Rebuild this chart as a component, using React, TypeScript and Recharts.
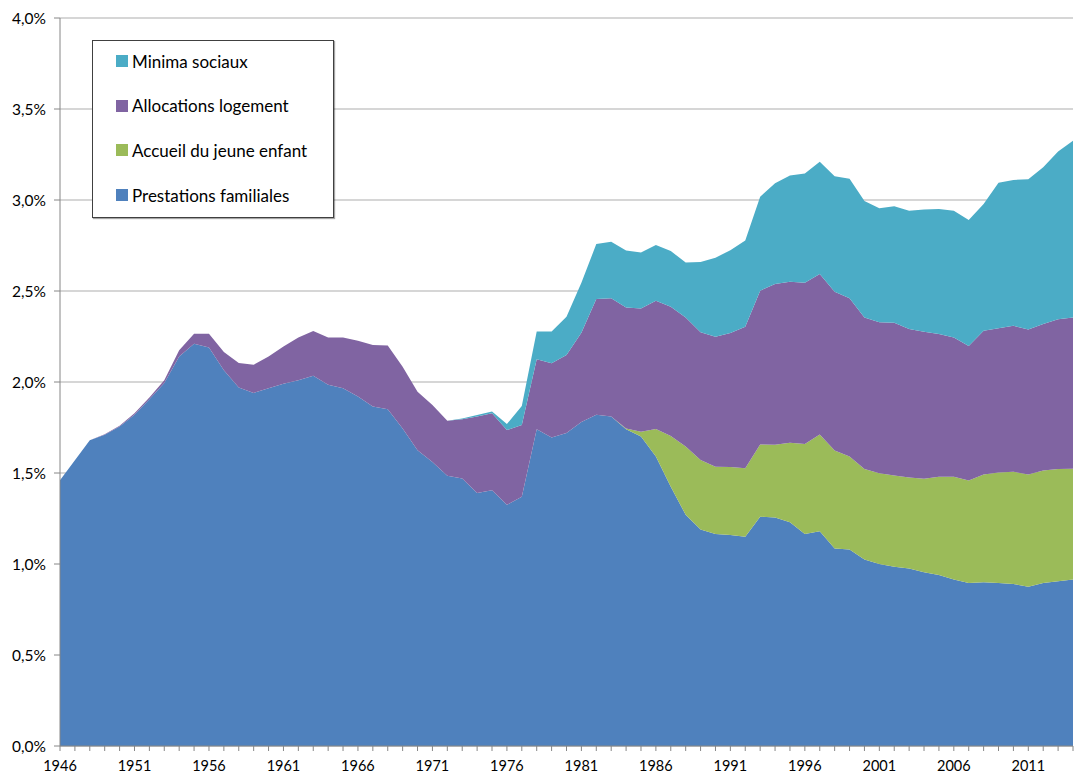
import React from "react";
import { AreaChart, Area, XAxis, YAxis, CartesianGrid, Legend } from "recharts";

const years = [
  "1946","1947","1948","1949","1950","1951","1952","1953","1954","1955",
  "1956","1957","1958","1959","1960","1961","1962","1963","1964","1965",
  "1966","1967","1968","1969","1970","1971","1972","1973","1974","1975",
  "1976","1977","1978","1979","1980","1981","1982","1983","1984","1985",
  "1986","1987","1988","1989","1990","1991","1992","1993","1994","1995",
  "1996","1997","1998","1999","2000","2001","2002","2003","2004","2005",
  "2006","2007","2008","2009","2010","2011","2012","2013","2014",
];

const prestationsFamiliales = [
  1.46, 1.57, 1.68, 1.71, 1.755, 1.82, 1.905, 1.995, 2.14, 2.21,
  2.19, 2.065, 1.97, 1.94, 1.965, 1.99, 2.01, 2.035, 1.985, 1.965,
  1.92, 1.865, 1.85, 1.745, 1.625, 1.56, 1.485, 1.47, 1.39, 1.405,
  1.325, 1.37, 1.74, 1.695, 1.72, 1.78, 1.82, 1.81, 1.74, 1.70,
  1.59, 1.425, 1.27, 1.19, 1.165, 1.16, 1.15, 1.26, 1.255, 1.23,
  1.165, 1.18, 1.085, 1.08, 1.025, 1.0, 0.985, 0.975, 0.955, 0.94,
  0.915, 0.895, 0.9, 0.895, 0.89, 0.875, 0.895, 0.905, 0.915,
];

const accueilJeuneEnfant = [
  0, 0, 0, 0, 0, 0, 0, 0, 0, 0,
  0, 0, 0, 0, 0, 0, 0, 0, 0, 0,
  0, 0, 0, 0, 0, 0, 0, 0, 0, 0,
  0, 0, 0, 0, 0, 0, 0, 0, 0.005, 0.027,
  0.152, 0.278, 0.376, 0.381, 0.37, 0.373, 0.376, 0.397, 0.4, 0.436,
  0.494, 0.532, 0.539, 0.51, 0.497, 0.499, 0.501, 0.5, 0.513, 0.54,
  0.564, 0.564, 0.592, 0.608, 0.617, 0.617, 0.619, 0.617, 0.608,
];

const allocationsLogement = [
  0, 0, 0, 0.003, 0.005, 0.008, 0.01, 0.015, 0.035, 0.055,
  0.075, 0.1, 0.135, 0.155, 0.175, 0.205, 0.235, 0.245, 0.26, 0.28,
  0.307, 0.338, 0.35, 0.339, 0.322, 0.314, 0.302, 0.325, 0.42, 0.423,
  0.411, 0.394, 0.385, 0.408, 0.428, 0.49, 0.636, 0.65, 0.665, 0.677,
  0.705, 0.711, 0.709, 0.703, 0.714, 0.736, 0.778, 0.845, 0.883, 0.885,
  0.887, 0.881, 0.872, 0.87, 0.832, 0.829, 0.84, 0.816, 0.808, 0.784,
  0.766, 0.739, 0.79, 0.792, 0.802, 0.797, 0.805, 0.823, 0.832,
];

const minimaSociaux = [
  0, 0, 0, 0, 0, 0, 0, 0, 0, 0,
  0, 0, 0, 0, 0, 0, 0, 0, 0, 0,
  0, 0, 0, 0, 0, 0, 0, 0.005, 0.008, 0.01,
  0.033, 0.104, 0.152, 0.174, 0.211, 0.275, 0.302, 0.311, 0.312, 0.308,
  0.306, 0.306, 0.301, 0.385, 0.434, 0.455, 0.473, 0.516, 0.554, 0.583,
  0.6, 0.617, 0.634, 0.657, 0.64, 0.626, 0.639, 0.65, 0.672, 0.686,
  0.696, 0.692, 0.696, 0.8, 0.801, 0.825, 0.861, 0.921, 0.971,
];

const yTicks = [0, 0.5, 1, 1.5, 2, 2.5, 3, 3.5, 4];
const labelYears = ["1946","1951","1956","1961","1966","1971","1976","1981","1986","1991","1996","2001","2006","2011"];

const series = [
  { key: "prestations", name: "Prestations familiales", color: "#4F81BD" },
  { key: "accueil", name: "Accueil du jeune enfant", color: "#9BBB59" },
  { key: "allocations", name: "Allocations logement", color: "#8064A2" },
  { key: "minima", name: "Minima sociaux", color: "#4BACC6" },
];

const data = years.map((y, i) => ({
  year: y,
  prestations: prestationsFamiliales[i],
  accueil: accueilJeuneEnfant[i],
  allocations: allocationsLogement[i],
  minima: minimaSociaux[i],
}));

const FONT = "Lato, 'Open Sans', sans-serif";

const XTick = (props: any) => {
  const { x, y, payload } = props;
  if (!labelYears.includes(payload.value)) return <g />;
  return (
    <text x={x} y={y} dy="0.71em" textAnchor="middle" fill="#000" fontSize={14.5} fontFamily={FONT}>
      {payload.value}
    </text>
  );
};

const LegendBox = () => {
  const items = [...series].reverse();
  return (
    <div
      style={{
        width: 242,
        height: 178,
        boxSizing: "border-box",
        border: "1px solid #404040",
        boxShadow: "1px 1px 1px rgba(0,0,0,0.35)",
        background: "#fff",
        position: "relative",
        fontFamily: FONT,
        fontSize: 17,
        color: "#000",
      }}
    >
      {items.map((s, i) => (
        <div
          key={s.key}
          style={{
            position: "absolute",
            left: 23,
            top: 20 + i * 44.7 - 10,
            height: 20,
            display: "flex",
            alignItems: "center",
            whiteSpace: "nowrap",
          }}
        >
          <span style={{ display: "inline-block", width: 12, height: 12, background: s.color, marginRight: 4 }} />
          <span>{s.name}</span>
        </div>
      ))}
    </div>
  );
};

export default function App() {
  return (
    <div style={{ position: "absolute", left: 0, top: 0, width: 1074, height: 775, background: "#fff" }}>
      <AreaChart width={1074} height={775} data={data} margin={{ top: 18, right: 1, bottom: 0, left: 0 }}>
        <CartesianGrid vertical={false} stroke="#ADADAD" strokeWidth={1} />
        <XAxis
          dataKey="year"
          interval={0}
          height={29}
          tickSize={5}
          tickMargin={10}
          tick={<XTick />}
          axisLine={{ stroke: "#868686" }}
          tickLine={{ stroke: "#868686" }}
        />
        <YAxis
          width={60}
          domain={[0, 4]}
          ticks={yTicks}
          tickSize={6}
          tickMargin={8}
          tickFormatter={(v: number) => v.toFixed(1).replace(".", ",") + "%"}
          tick={{ fill: "#000", fontSize: 15.5, fontFamily: FONT }}
          axisLine={{ stroke: "#868686" }}
          tickLine={{ stroke: "#868686" }}
        />
        <Legend
          layout="vertical"
          align="center"
          verticalAlign="middle"
          wrapperStyle={{ left: 92, top: 40, width: 242, height: 178 }}
          content={<LegendBox />}
        />
        {series.map((s) => (
          <Area
            key={s.key}
            type="linear"
            dataKey={s.key}
            name={s.name}
            stackId="1"
            stroke="none"
            fill={s.color}
            fillOpacity={1}
            isAnimationActive={false}
            dot={false}
            activeDot={false}
          />
        ))}
      </AreaChart>
    </div>
  );
}
